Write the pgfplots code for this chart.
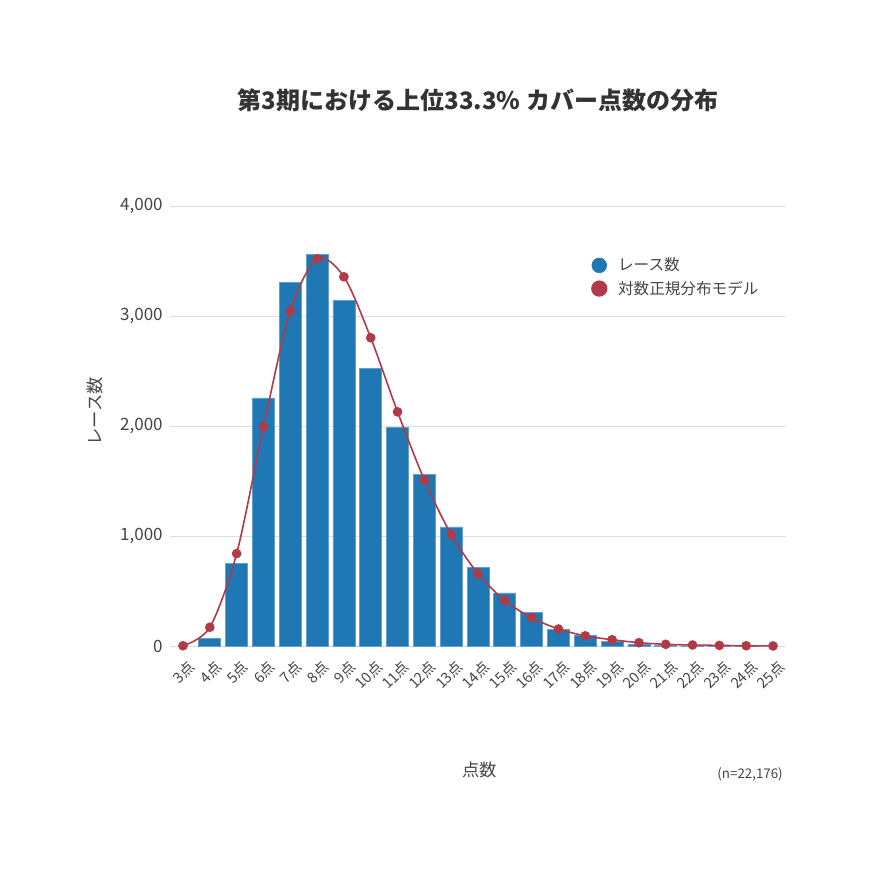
\documentclass[border=0pt]{standalone}
\usepackage{fontspec}
\setmainfont{Noto Sans CJK JP}
\usepackage{pgfplots}
\usepackage{pgfplotstable}
\pgfplotsset{compat=1.18}
\definecolor{barblue}{RGB}{31,119,180}
\definecolor{modelred}{RGB}{176,58,72}
\definecolor{gridgray}{RGB}{221,221,221}
\definecolor{txt}{RGB}{68,68,68}
\pgfplotstableread{
x bars
4 70
5 755
6 2257
7 3305
8 3557
9 3142
10 2521
11 1985
12 1564
13 1085
14 720
15 485
16 305
17 150
18 97
19 48
20 18
21 6
22 3
23 2
24 1
}\bardata
\pgfplotstableread{
x model
3 5
4 173
5 842
6 1994
7 3048
8 3521
9 3357
10 2803
11 2130
12 1512
13 1015
14 660
15 415
16 260
17 157
18 95
19 60
20 33
21 18
22 12
23 8
24 5
25 3
}\modeldata
\begin{document}
\begin{tikzpicture}
\path[use as bounding box] (0,0) rectangle (652.5pt,652.5pt);
\begin{axis}[
  at={(127.2pt,167.775pt)}, anchor=south west,
  scale only axis, width=462.6pt, height=330.2pt,
  xmin=2.5, xmax=25.5, ymin=0, ymax=4000,
  axis line style={draw=none},
  major tick length=0pt,
  ymajorgrids, grid style={gridgray, line width=0.75pt},
  ytick={0,1000,2000,3000,4000},
  scaled y ticks=false,
  yticklabel style={font=\fontsize{12.75pt}{15pt}\selectfont, text=txt, /pgf/number format/1000 sep={,}, /pgf/number format/assume math mode=true, anchor=east, inner sep=0pt, xshift=-5pt},
  xtick={3,...,25},
  xticklabels={3点,4点,5点,6点,7点,8点,9点,10点,11点,12点,13点,14点,15点,16点,17点,18点,19点,20点,21点,22点,23点,24点,25点},
  xticklabel style={font=\fontsize{11pt}{13pt}\selectfont, text=txt, rotate=45, anchor=east, inner sep=0pt, xshift=-4.6pt, yshift=-14.1pt},
  legend style={draw=none, fill=none, at={(0.683,0.886)}, anchor=north west,
     font=\fontsize{11.7pt}{13pt}\selectfont, text=txt, row sep=4pt, column sep=7pt, inner sep=0pt,
     nodes={inner sep=1pt}},
  legend cell align=left,
  clip=false,
]
\addplot[ybar, bar width=16.5pt, fill=barblue, draw=barblue!70!white, line width=0.5pt,
  legend image code/.code={\fill[barblue] (0.25em,0pt) circle (5.5pt);}]
  table[x=x,y=bars]{\bardata};
\addlegendentry{レース数}
\addplot[modelred, line width=1.2pt, smooth, tension=0.5, mark=*, mark size=3pt,
  mark options={fill=modelred, draw=modelred},
  legend image code/.code={\fill[modelred] (0.25em,0pt) circle (5.5pt);}]
  table[x=x,y=model]{\modeldata};
\addlegendentry{対数正規分布モデル}
\end{axis}
\node[font=\fontsize{18pt}{22pt}\selectfont\bfseries, text={rgb,255:red,51;green,51;blue,51}] at (358.5pt,577.5pt) {第3期における上位33.3\% カバー点数の分布};
\node[rotate=90, font=\fontsize{13pt}{15pt}\selectfont, text=txt] at (71.5pt,344pt) {レース数};
\node[font=\fontsize{13pt}{15pt}\selectfont, text=txt] at (359.5pt,75pt) {点数};
\node[anchor=east, inner sep=0pt, font=\fontsize{10pt}{12pt}\selectfont, text=txt] at (587.25pt,72pt) {(n=22,176)};
\end{tikzpicture}
\end{document}
